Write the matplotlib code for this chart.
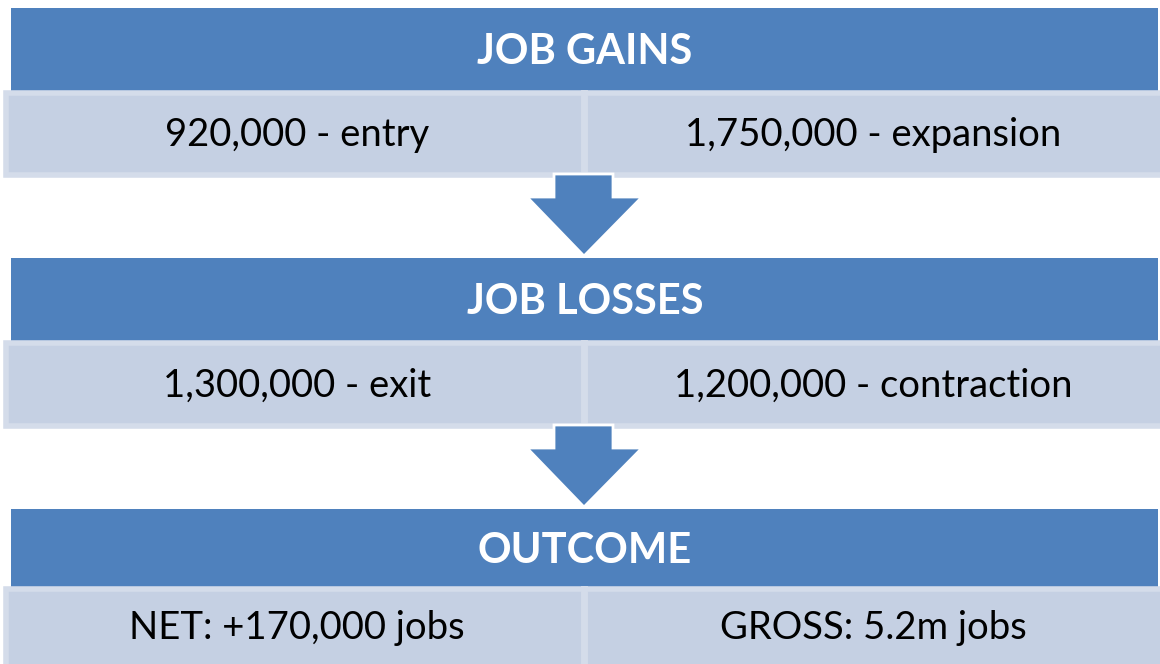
import matplotlib.pyplot as plt
from matplotlib.patches import Rectangle, Polygon

# flow diagram content
headers = ['JOB GAINS', 'JOB LOSSES', 'OUTCOME']
left_items = ['920,000 - entry', '1,300,000 - exit', 'NET: +170,000 jobs']
right_items = ['1,750,000 - expansion', '1,200,000 - contraction', 'GROSS: 5.2m jobs']

HEAD_BLUE = '#4F81BD'
BOX_FILL = '#C5D0E3'
BOX_EDGE = '#D4DCEA'

W, H = 1160, 664
fig = plt.figure(figsize=(W / 100, H / 100), dpi=100)
ax = fig.add_axes([0, 0, 1, 1])
ax.set_xlim(0, W)
ax.set_ylim(H, 0)
ax.axis('off')

plt.rcParams['font.family'] = ['Lato', 'DejaVu Sans']

# (header top, header bottom, box bottom) for each block
rows = [(8, 93, 175), (258, 343, 426), (509, 589, 672)]
split_x = 584

for i, (top, mid, bot) in enumerate(rows):
    ax.add_patch(Rectangle((11, top), 1147, mid - top, facecolor=HEAD_BLUE, edgecolor='none'))
    ax.add_patch(Rectangle((6, mid), 1160, bot - mid, facecolor=BOX_FILL,
                           edgecolor=BOX_EDGE, linewidth=4))
    ax.plot([split_x, split_x], [mid, bot], color=BOX_EDGE, linewidth=5)
    ax.text(585, (top + mid) / 2 + 2, headers[i], ha='center', va='center',
            color='white', fontsize=30, fontweight='bold')
    ty = (mid + min(bot, H)) / 2 + 1
    ax.text(297, ty, left_items[i], ha='center', va='center', color='black', fontsize=27.5)
    ax.text(873, ty, right_items[i], ha='center', va='center', color='black', fontsize=27.5)

    # down arrow to the next block
    if i < len(rows) - 1:
        nxt = rows[i + 1][0]
        arrow = Polygon([(554, bot - 1), (613, bot - 1), (613, bot + 22), (642, bot + 22),
                         (584, nxt - 2), (527, bot + 22), (554, bot + 22)],
                        closed=True, facecolor=HEAD_BLUE, edgecolor='white', linewidth=2,
                        zorder=3)
        ax.add_patch(arrow)

fig.savefig('out.png', dpi=100)
